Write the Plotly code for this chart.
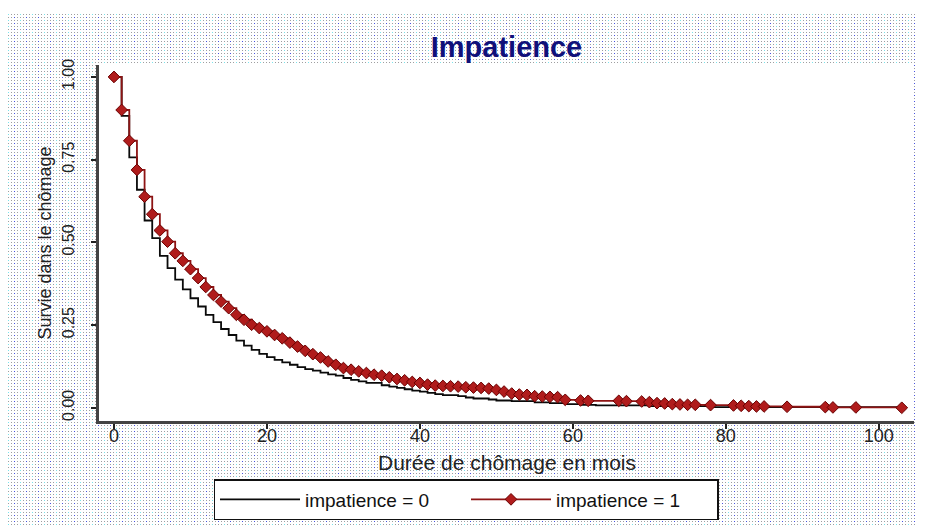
import base64
import struct
import zlib

import numpy as np
import plotly.graph_objects as go

# ---------------- data ----------------
title_text = "Impatience"
x_title = "Durée de chômage en mois"
y_title = "Survie dans le chômage"
series_names = ["impatience = 0", "impatience = 1"]

x_ticks = [0, 20, 40, 60, 80, 100]
y_ticks = [0.0, 0.25, 0.5, 0.75, 1.0]

t_imp0 = [0, 1, 2, 3, 4, 5, 6, 7, 8, 9, 10, 11, 12, 13, 14, 15, 16, 17, 18, 19,
          20, 21, 22, 23, 24, 25, 26, 27, 28, 29, 30, 31, 32, 33, 35, 36, 37, 38,
          39, 40, 41, 42, 43, 45, 46, 47, 49, 50, 52, 55, 57, 59, 61, 63, 70, 78,
          103]
s_imp0 = [1.0, 0.882, 0.757, 0.659, 0.566, 0.513, 0.459, 0.422, 0.387, 0.358,
          0.331, 0.306, 0.281, 0.259, 0.238, 0.220, 0.203, 0.188, 0.175, 0.163,
          0.153, 0.145, 0.137, 0.130, 0.123, 0.117, 0.112, 0.106, 0.101, 0.097,
          0.090, 0.084, 0.080, 0.075, 0.068, 0.064, 0.060, 0.056, 0.052, 0.049,
          0.045, 0.041, 0.038, 0.035, 0.031, 0.028, 0.025, 0.022, 0.020, 0.016,
          0.014, 0.011, 0.009, 0.007, 0.005, 0.002, 0.002]

t_imp1 = [0, 1, 2, 3, 4, 5, 6, 7, 8, 9, 10, 11, 12, 13, 14, 15, 16, 17, 18, 19,
          20, 21, 22, 23, 24, 25, 26, 27, 28, 29, 30, 31, 32, 33, 34, 35, 36, 37,
          38, 39, 40, 41, 42, 43, 44, 45, 46, 47, 48, 49, 50, 51, 52, 53, 54, 55,
          56, 57, 58, 59, 61, 62, 66, 67, 69, 70, 71, 72, 73, 74, 75, 76, 78, 81,
          82, 83, 84, 85, 88, 93, 94, 97, 103]
s_imp1 = [1.0, 0.900, 0.807, 0.719, 0.638, 0.585, 0.536, 0.502, 0.467, 0.444,
          0.419, 0.392, 0.365, 0.341, 0.321, 0.301, 0.281, 0.266, 0.251, 0.241,
          0.231, 0.220, 0.210, 0.197, 0.185, 0.172, 0.162, 0.152, 0.140, 0.130,
          0.120, 0.115, 0.110, 0.105, 0.100, 0.097, 0.092, 0.087, 0.083, 0.078,
          0.075, 0.070, 0.067, 0.066, 0.065, 0.064, 0.062, 0.061, 0.060, 0.058,
          0.054, 0.049, 0.043, 0.040, 0.039, 0.035, 0.034, 0.033, 0.032, 0.024,
          0.022, 0.021, 0.021, 0.020, 0.019, 0.017, 0.014, 0.013, 0.011, 0.010,
          0.009, 0.009, 0.008, 0.007, 0.006, 0.005, 0.004, 0.004, 0.003, 0.002,
          0.001, 0.001, 0.000]

# ---------------- layout geometry ----------------
# the page body has an 8px margin, so the figure starts at (8, 8) on screen
OFF = 8
W, H = 925 - OFF, 527 - OFF
L, R, T, B = 99 - OFF, 914 - OFF, 65 - OFF, 421 - OFF   # plot area
PW, PH = R - L, B - T

# ---------------- dotted background texture (PNG) ----------------
img = np.full((H, W, 3), 255, dtype=np.uint8)
pat = np.full((H, W, 3), 255, dtype=np.uint8)
pat[0::3, 0::3] = (158, 158, 160)
pat[0::6, 0::12] = (120, 228, 236)
pat[3::6, 6::12] = (70, 80, 228)
img[6:, :] = pat[6:, :]
img[T:B, L:R] = 255


def make_png(a):
    h, w, _ = a.shape
    raw = b"".join(b"\x00" + a[i].tobytes() for i in range(h))

    def chunk(tag, data):
        c = struct.pack(">I", len(data)) + tag + data
        return c + struct.pack(">I", zlib.crc32(tag + data) & 0xFFFFFFFF)

    return (b"\x89PNG\r\n\x1a\n"
            + chunk(b"IHDR", struct.pack(">IIBBBBB", w, h, 8, 2, 0, 0, 0))
            + chunk(b"IDAT", zlib.compress(raw, 9))
            + chunk(b"IEND", b""))


bg_uri = "data:image/png;base64," + base64.b64encode(make_png(img)).decode()

# ---------------- figure ----------------
SANS = "Liberation Sans, Arial, sans-serif"

fig = go.Figure()
fig.add_trace(go.Scatter(
    x=t_imp0, y=s_imp0, name=series_names[0], mode="lines",
    line=dict(color="#0a0a0a", width=1.8, shape="hv"),
))
fig.add_trace(go.Scatter(
    x=t_imp1, y=s_imp1, name=series_names[1], mode="lines+markers",
    line=dict(color="#8e1414", width=1.8, shape="hv"),
    marker=dict(symbol="diamond", size=9, color="#b01c1c",
                line=dict(color="#6a0000", width=1)),
))

fig.update_layout(
    width=W, height=H,
    margin=dict(l=L, r=W - R, t=T, b=H - B, autoexpand=False),
    paper_bgcolor="white", plot_bgcolor="white",
    title=dict(text=title_text, x=(L + R) / 2 / W, xanchor="center",
               y=1 - (47 - OFF) / H, yanchor="middle",
               font=dict(family=SANS, size=29, color="#10107a", weight="bold")),
    images=[dict(source=bg_uri, xref="paper", yref="paper",
                 x=-L / PW, y=B / PH, sizex=W / PW, sizey=H / PH,
                 xanchor="left", yanchor="top", sizing="stretch",
                 layer="below")],
    legend=dict(orientation="h", x=(466 - 99) / PW, xanchor="center",
                y=(421 - 479) / PH, yanchor="top",
                bgcolor="white", bordercolor="#111", borderwidth=1.5,
                font=dict(family=SANS, size=19, color="#111"),
                entrywidth=156, itemwidth=80),
    showlegend=True,
    annotations=[dict(text=x_title, xref="paper", yref="paper", x=0.5,
                      y=(421 - 462) / PH, xanchor="center", yanchor="middle",
                      showarrow=False,
                      font=dict(family=SANS, size=21, color="#222"))],
)

fig.update_xaxes(
    range=[-1.96, 104.6], tickvals=x_ticks, ticks="outside", ticklen=5,
    tickwidth=1.5, tickcolor="#222", showline=True, linecolor="#444",
    linewidth=2.5, showgrid=False, zeroline=False, automargin=False,
    ticklabelstandoff=-8,
    tickfont=dict(family=SANS, size=18, color="#222"),
)
fig.update_yaxes(
    range=[-0.04, 1.036], tickvals=y_ticks, tickformat=".2f", ticks="outside",
    ticklen=5, tickwidth=1.5, tickcolor="#222", showline=True,
    linecolor="#444", linewidth=2.5, showgrid=False, zeroline=False,
    automargin=False, tickangle=-90, ticklabelstandoff=11,
    tickfont=dict(family=SANS, size=16, color="#222"),
    title=dict(text=y_title, standoff=4,
               font=dict(family=SANS, size=18, color="#222")),
)

fig.write_html("out.html")
